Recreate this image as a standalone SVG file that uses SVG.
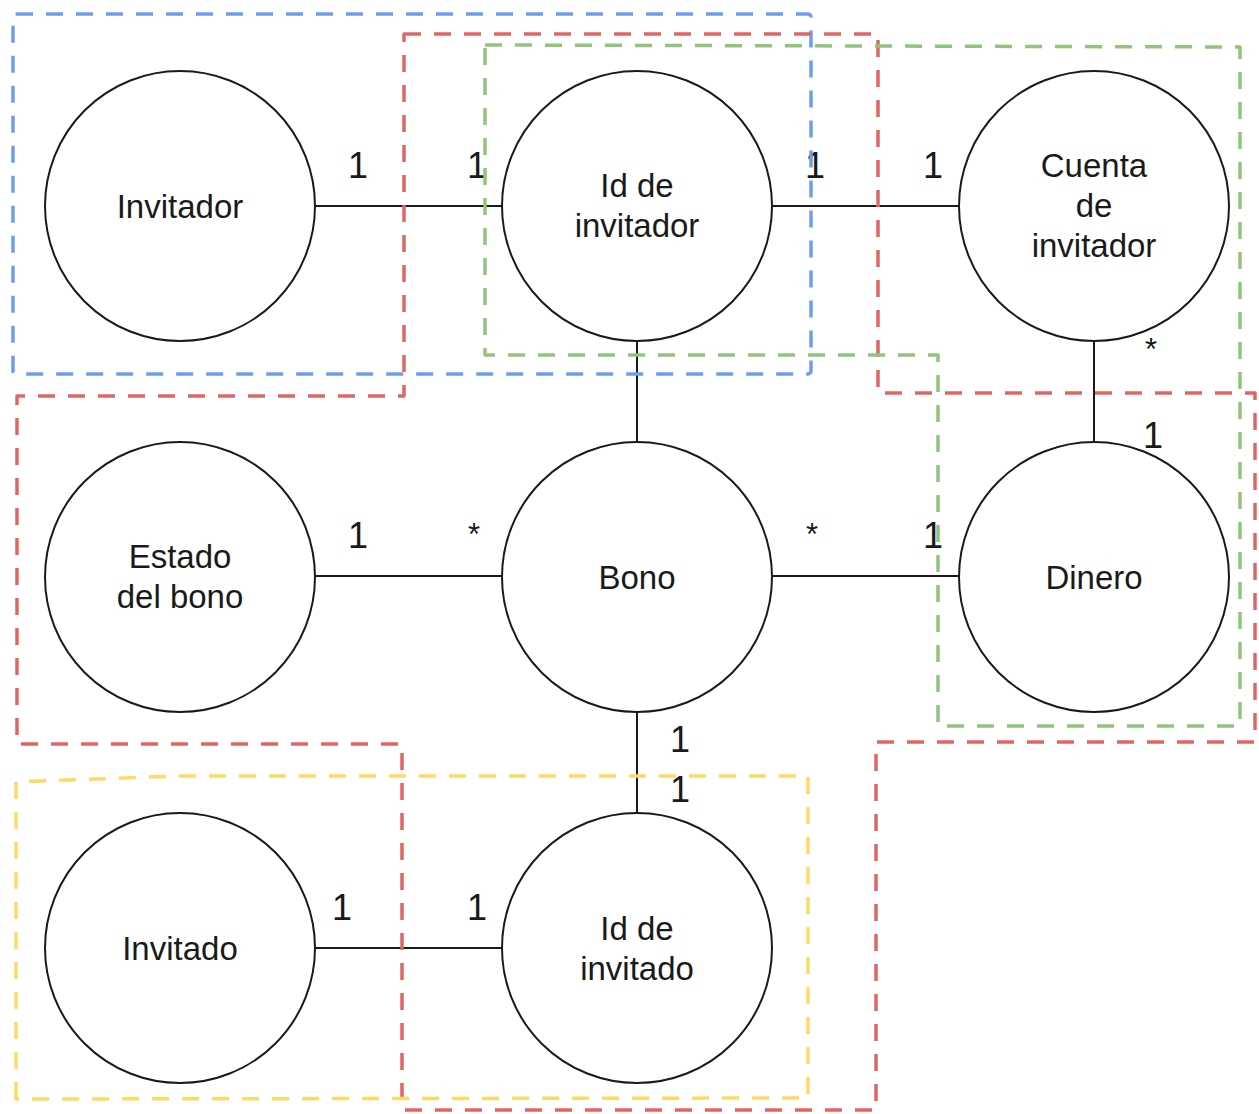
<svg xmlns="http://www.w3.org/2000/svg" width="1259" height="1114" viewBox="0 0 1259 1114">
  <style>
    .zone { fill: none; stroke-width: 3.5; stroke-dasharray: 17 13; stroke-linejoin: round; }
    .blue { stroke: #6d9eeb; }
    .red { stroke: #e06666; }
    .green { stroke: #93c47d; }
    .yellow { stroke: #ffd966; }
    .node circle { fill: #ffffff; stroke: #1a1a1a; stroke-width: 2; }
    .node text { font-family: "Liberation Sans", Arial, sans-serif; font-size: 33px; fill: #1a1a1a; text-anchor: middle; }
    .edge { stroke: #1a1a1a; stroke-width: 2; fill: none; }
    .mult { font-family: "Liberation Sans", Arial, sans-serif; font-size: 36px; fill: #1a1a1a; text-anchor: middle; }
    .star { font-family: "Liberation Sans", Arial, sans-serif; font-size: 31px; fill: #1a1a1a; text-anchor: middle; }
  </style>

  <rect width="1259" height="1114" fill="#ffffff"/>

  <!-- connectors -->
  <g id="connectors">
    <line class="edge" x1="315" y1="206" x2="502" y2="206"/>
    <line class="edge" x1="772" y1="206" x2="959" y2="206"/>
    <line class="edge" x1="637" y1="341" x2="637" y2="442"/>
    <line class="edge" x1="1094" y1="341" x2="1094" y2="442"/>
    <line class="edge" x1="315" y1="576" x2="502" y2="576"/>
    <line class="edge" x1="772" y1="576" x2="959" y2="576"/>
    <line class="edge" x1="637" y1="712" x2="637" y2="813"/>
    <line class="edge" x1="315" y1="948" x2="502" y2="948"/>
  </g>

  <!-- nodes -->
  <g id="node-invitador" class="node">
    <circle cx="180" cy="206" r="135"/>
    <text x="180" y="218">Invitador</text>
  </g>
  <g id="node-id-invitador" class="node">
    <circle cx="637" cy="206" r="135"/>
    <text x="637" y="197">Id de</text>
    <text x="637" y="237">invitador</text>
  </g>
  <g id="node-cuenta-invitador" class="node">
    <circle cx="1094" cy="206" r="135"/>
    <text x="1094" y="177">Cuenta</text>
    <text x="1094" y="217">de</text>
    <text x="1094" y="257">invitador</text>
  </g>
  <g id="node-estado-bono" class="node">
    <circle cx="180" cy="577" r="135"/>
    <text x="180" y="568">Estado</text>
    <text x="180" y="608">del bono</text>
  </g>
  <g id="node-bono" class="node">
    <circle cx="637" cy="577" r="135"/>
    <text x="637" y="589">Bono</text>
  </g>
  <g id="node-dinero" class="node">
    <circle cx="1094" cy="577" r="135"/>
    <text x="1094" y="589">Dinero</text>
  </g>
  <g id="node-invitado" class="node">
    <circle cx="180" cy="948" r="135"/>
    <text x="180" y="960">Invitado</text>
  </g>
  <g id="node-id-invitado" class="node">
    <circle cx="637" cy="948" r="135"/>
    <text x="637" y="940">Id de</text>
    <text x="637" y="980">invitado</text>
  </g>

  <!-- multiplicities -->
  <g id="multiplicities">
    <text class="mult" x="358" y="178">1</text>
    <text class="mult" x="477" y="178">1</text>
    <text class="mult" x="815" y="178">1</text>
    <text class="mult" x="933" y="178">1</text>
    <text class="star" x="1151" y="360">*</text>
    <text class="mult" x="1153" y="448">1</text>
    <text class="mult" x="358" y="548">1</text>
    <text class="star" x="474" y="545">*</text>
    <text class="star" x="812" y="545">*</text>
    <text class="mult" x="933" y="548">1</text>
    <text class="mult" x="680" y="752">1</text>
    <text class="mult" x="680" y="802">1</text>
    <text class="mult" x="342" y="920">1</text>
    <text class="mult" x="477" y="920">1</text>
  </g>

  <!-- dashed groupings -->
  <g id="zones">
    <rect class="zone blue" x="13" y="14" width="798" height="360" rx="3"/>
    <path class="zone red" d="M404,34 L878,34 L878,393 L1255,393 L1255,742 L876,742 L876,1110 L402,1110 L402,744 L17,744 L17,396 L404,396 Z"/>
    <path class="zone green" d="M485,45 L1240,47 L1240,726 L938,726 L938,355 L485,355 Z"/>
    <path class="zone yellow" d="M16,1099 L16,782 L40,781 L180,776 L808,776 L808,1098 Z"/>
  </g>
</svg>
